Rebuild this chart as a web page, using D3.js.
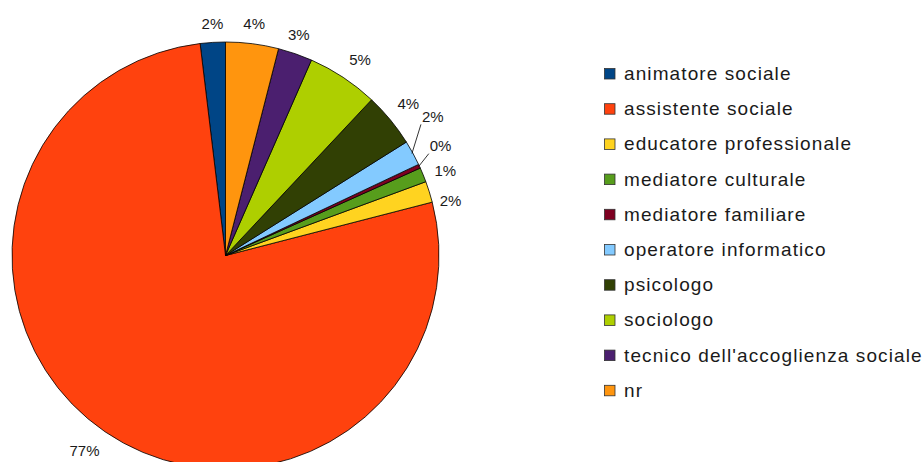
<!DOCTYPE html>
<html>
<head>
<meta charset="utf-8">
<script src="https://cdn.jsdelivr.net/npm/d3@7/dist/d3.min.js"></script>
<style>
  html, body { margin: 0; padding: 0; background: #fff; }
  svg { display: block; }
  text { font-family: "Liberation Sans", Arial, sans-serif; fill: #1a1a1a; }
</style>
</head>
<body>
<svg id="chart" width="924" height="462"></svg>
<script>
// ---- data ----
const categories = [
  "animatore sociale",
  "assistente sociale",
  "educatore professionale",
  "mediatore culturale",
  "mediatore familiare",
  "operatore informatico",
  "psicologo",
  "sociologo",
  "tecnico dell'accoglienza sociale",
  "nr"
];
const values = [1.9, 77.2, 1.6, 1.1, 0.3, 1.9, 4.1, 5.4, 2.6, 4.0];
const colors = ["#004586", "#ff420e", "#ffd320", "#579d1c", "#7e0021",
                "#83caff", "#314004", "#aecf00", "#4b1f6f", "#ff950e"];

// ---- layout (label nudges in px, leader-line flags) ----
const labelNudge = [[1, -1], [-5, 4], [-1, 14], [0.5, 2.5], [0, -12.5],
                    [-0.5, -27.5], [0, -5], [4, -3], [-4, -2], [-1, -2]];
const leader = [false, false, false, false, true, true, false, false, false, false];

const svg = d3.select("#chart");
const cx = 225.5, cy = 255.5, r = 213.5;
const g = svg.append("g").attr("transform", `translate(${cx},${cy})`);

const total = d3.sum(values);
const pie = d3.pie().sort(null).value(d => d).startAngle(0).endAngle(-2 * Math.PI);
const arcs = pie(values);
const arc = d3.arc().innerRadius(0).outerRadius(r);

g.selectAll("path.slice").data(arcs).join("path")
  .attr("class", "slice")
  .attr("d", arc)
  .attr("fill", (d, i) => colors[i])
  .attr("stroke", "#000")
  .attr("stroke-width", 0.8)
  .attr("stroke-linejoin", "round");

const fmt = v => Math.round(v / total * 100) + "%";
const R = 226;
arcs.forEach((d, i) => {
  const a = (d.startAngle + d.endAngle) / 2;
  const s = Math.sin(a), c = -Math.cos(a);
  const t = g.append("text")
    .attr("font-size", 15)
    .attr("text-anchor", "middle")
    .attr("dy", "0.35em")
    .text(fmt(d.value));
  const w = t.node().getComputedTextLength();
  const hw = w / 2, hh = 5.5;
  const x = R * s + hw * s + labelNudge[i][0];
  const y = R * c + hh * c + labelNudge[i][1];
  t.attr("x", x).attr("y", y);
  if (leader[i]) {
    g.append("line")
      .attr("x1", (r - 1) * s).attr("y1", (r - 1) * c)
      .attr("x2", x - hw - 1).attr("y2", y + hh + 2)
      .attr("stroke", "#000").attr("stroke-width", 0.8);
  }
});

// ---- legend ----
const legend = svg.append("g").attr("transform", "translate(604,73.5)");
const step = 35.2;
const rows = legend.selectAll("g.row").data(categories).join("g")
  .attr("class", "row")
  .attr("transform", (d, i) => `translate(0,${i * step})`);
rows.append("rect")
  .attr("x", 0.5).attr("y", -5)
  .attr("width", 10.5).attr("height", 10.5)
  .attr("fill", (d, i) => colors[i])
  .attr("stroke", "#333").attr("stroke-width", 0.8);
rows.append("text")
  .attr("x", 20).attr("y", 6.5)
  .attr("font-size", 19)
  .attr("letter-spacing", "1.1px")
  .text(d => d);
</script>
</body>
</html>
